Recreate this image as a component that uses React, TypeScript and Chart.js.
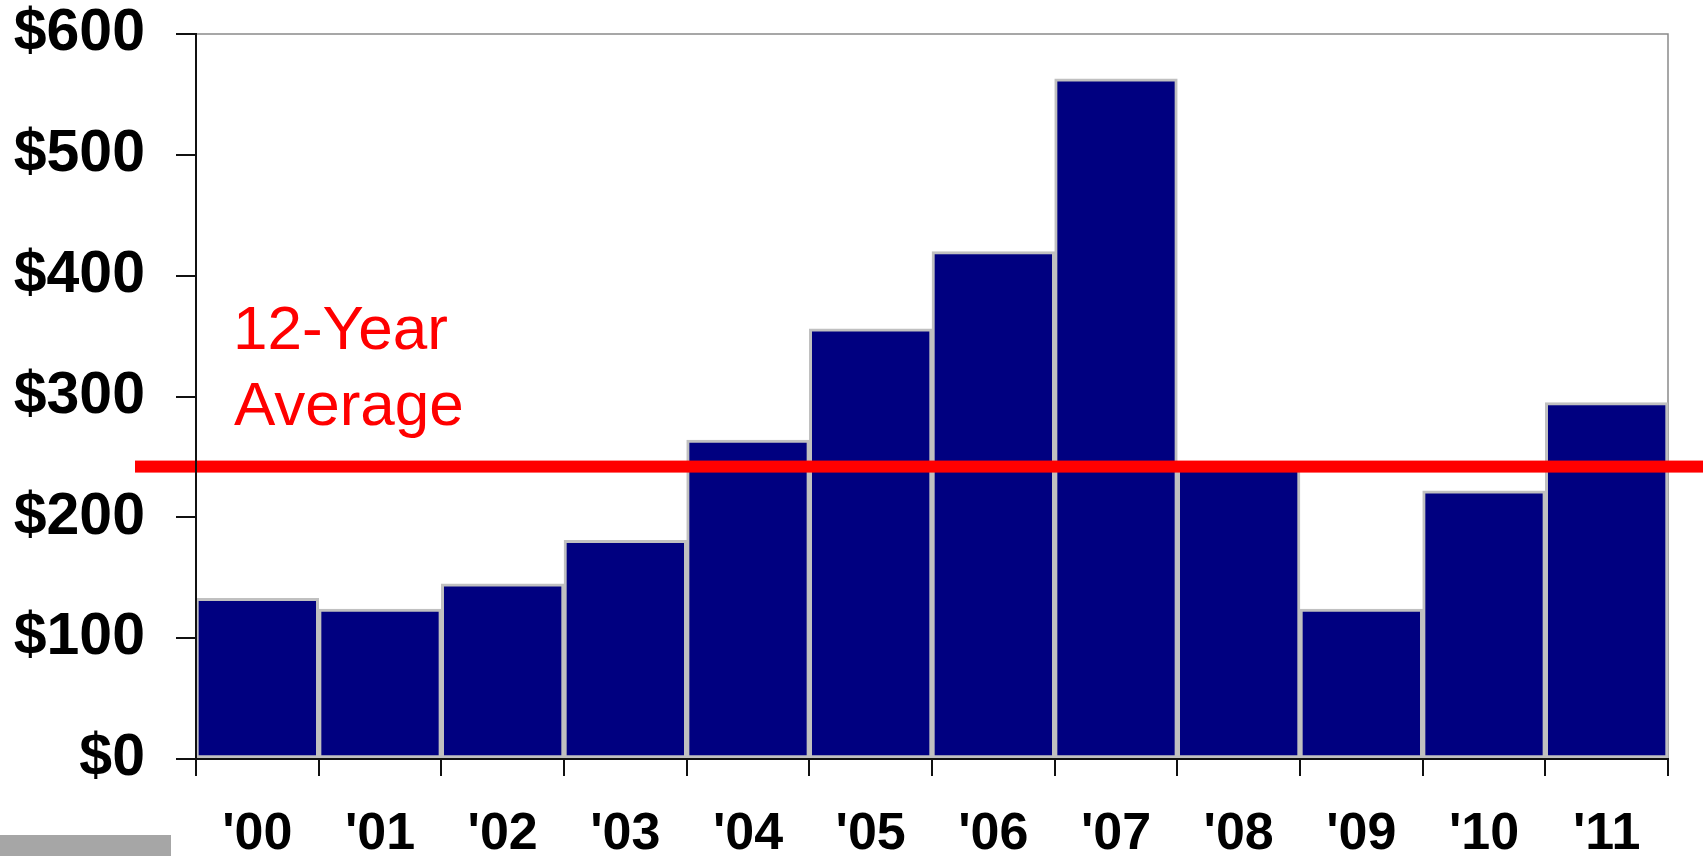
import React, { useEffect, useRef } from "react";
import { Chart, registerables } from "chart.js";

Chart.register(...registerables);

// ---- Data ----
const categories = ["'00", "'01", "'02", "'03", "'04", "'05", "'06", "'07", "'08", "'09", "'10", "'11"];
const values = [133, 124, 145, 181, 264, 356, 420, 563, 242, 124, 222, 295];
const yMin = 0;
const yMax = 600;
const yStep = 100;
const averageValue = 242;
const averageLabelLines = ["12-Year", "Average"];

const W = 1703;
const H = 856;
const FONT = "'Liberation Sans', Arial, Helvetica, sans-serif";

const decorPlugin = {
  id: "decor",
  beforeDatasetsDraw(chart: any) {
    const { ctx, chartArea: a } = chart;
    ctx.save();
    ctx.strokeStyle = "#8a8a8a";
    ctx.lineWidth = 1.5;
    ctx.beginPath();
    ctx.moveTo(a.left, a.top);
    ctx.lineTo(a.right, a.top);
    ctx.lineTo(a.right, a.bottom);
    ctx.stroke();
    ctx.restore();
  },
  afterDatasetsDraw(chart: any) {
    const { ctx, chartArea: a } = chart;
    const y = chart.scales.y.getPixelForValue(averageValue);
    ctx.save();
    ctx.fillStyle = "#ff0000";
    const x0 = a.left - 61;
    ctx.fillRect(x0, y - 6, chart.width - x0, 12);
    ctx.restore();
  },
  afterDraw(chart: any) {
    const { ctx, chartArea: a } = chart;
    const y = chart.scales.y.getPixelForValue(averageValue);
    ctx.save();
    ctx.fillStyle = "#ff0000";
    ctx.font = `62px ${FONT}`;
    ctx.textAlign = "left";
    ctx.textBaseline = "alphabetic";
    ctx.fillText(averageLabelLines[0], a.left + 37, y - 118);
    ctx.fillText(averageLabelLines[1], a.left + 38, y - 42);
    // grey strip bottom-left
    ctx.fillStyle = "#a6a6a6";
    ctx.fillRect(0, chart.height - 21, 171, 21);
    ctx.restore();
  },
};

export default function App() {
  const ref = useRef<HTMLCanvasElement | null>(null);

  useEffect(() => {
    if (!ref.current) return;
    const chart = new Chart(ref.current, {
      type: "bar",
      data: {
        labels: categories,
        datasets: [
          {
            data: values,
            backgroundColor: "#000080",
            borderColor: "#c0c0c0",
            borderWidth: 3,
            borderSkipped: false,
            barPercentage: 1,
            categoryPercentage: 1,
          },
        ],
      },
      options: {
        animation: false,
        responsive: false,
        devicePixelRatio: 1,
        layout: { padding: { top: 34, right: 35, left: 0, bottom: 0 } },
        plugins: {
          legend: { display: false },
          tooltip: { enabled: false },
        },
        scales: {
          x: {
            grid: {
              display: true,
              offset: true,
              drawOnChartArea: false,
              drawTicks: true,
              tickLength: 17,
              color: "#111",
              lineWidth: 2,
            },
            border: { display: true, color: "#111", width: 2, z: 1 },
            ticks: {
              color: "#000",
              font: { family: FONT, size: 52, weight: "bold" },
              padding: 27,
              maxRotation: 0,
              autoSkip: false,
            },
            afterFit(scale: any) {
              scale.height = 97;
              scale.paddingLeft = 0;
              scale.paddingRight = 0;
            },
          },
          y: {
            min: yMin,
            max: yMax,
            grid: {
              display: true,
              drawOnChartArea: false,
              drawTicks: true,
              tickLength: 20,
              color: "#111",
              lineWidth: 2,
            },
            border: { display: true, color: "#111", width: 2, z: 1 },
            ticks: {
              stepSize: yStep,
              color: "#000",
              font: { family: FONT, size: 59, weight: "bold" },
              padding: 31,
              callback: (v: any) => "$" + v,
            },
            afterFit(scale: any) {
              scale.width = 196;
              scale.paddingTop = 0;
              scale.paddingBottom = 0;
            },
          },
        },
      },
      plugins: [decorPlugin],
    } as any);
    return () => chart.destroy();
  }, []);

  return (
    <div style={{ position: "absolute", left: 0, top: 0, width: W, height: H, background: "#fff" }}>
      <canvas ref={ref} width={W} height={H} style={{ display: "block" }} />
    </div>
  );
}
